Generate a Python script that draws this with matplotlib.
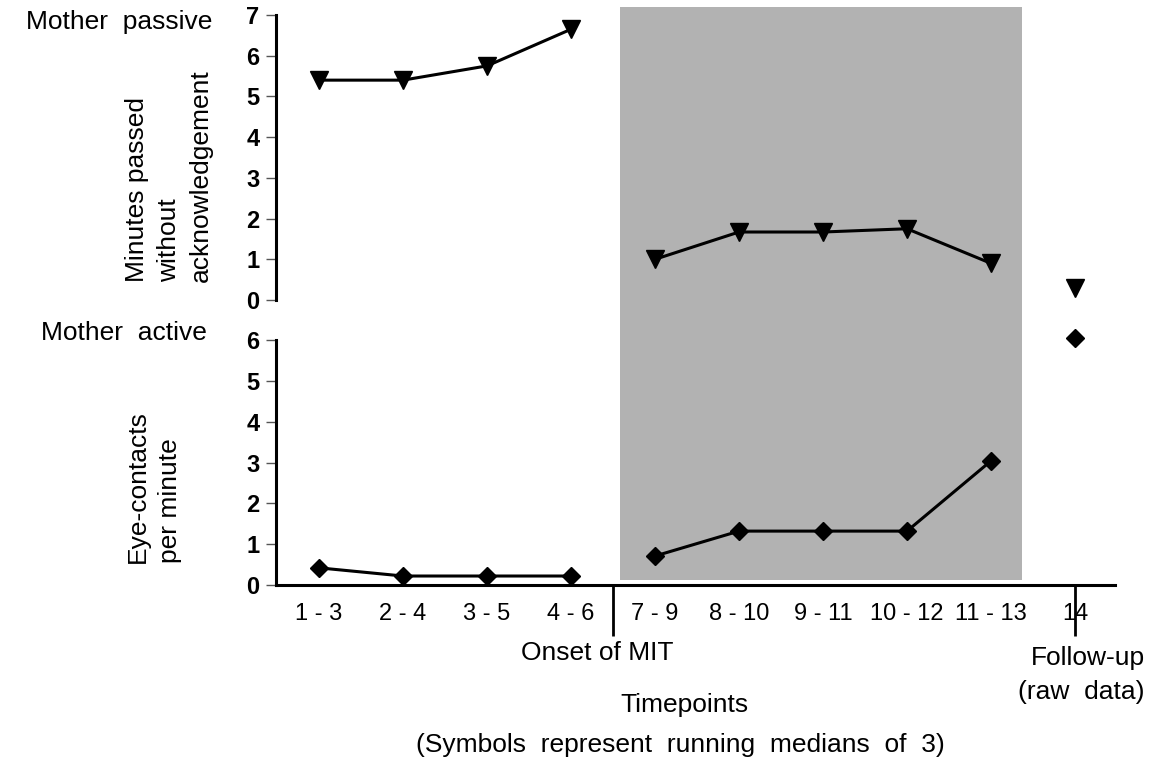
import matplotlib.pyplot as plt
from matplotlib.patches import Rectangle
from matplotlib.transforms import blended_transform_factory

plt.rcParams['font.family'] = ['Liberation Sans', 'DejaVu Sans']

# data
timepoints = ["1 - 3", "2 - 4", "3 - 5", "4 - 6", "7 - 9", "8 - 10", "9 - 11",
              "10 - 12", "11 - 13", "14"]
passive_baseline = [5.4, 5.4, 5.75, 6.65]
passive_mit = [1.0, 1.67, 1.67, 1.75, 0.9]
passive_followup = 0.3
active_baseline = [0.42, 0.22, 0.22, 0.22]
active_mit = [0.71, 1.32, 1.32, 1.32, 3.04]
active_followup = 6.05

x_base = list(range(0, 4))
x_mit = list(range(4, 9))
x_follow = 9

W, H = 1149, 759
fig = plt.figure(figsize=(W / 100, H / 100), dpi=100)


def rect(l, t, r, b):
    return [l / W, 1 - b / H, (r - l) / W, (b - t) / H]


ax_top = fig.add_axes(rect(276, 15, 1115, 300))
ax_bot = fig.add_axes(rect(276, 340, 1115, 585))

xlim = (-0.512, 9.476)
for ax in (ax_top, ax_bot):
    ax.set_xlim(*xlim)
    ax.patch.set_visible(False)
    for s in ("top", "right"):
        ax.spines[s].set_visible(False)
    ax.spines["left"].set_linewidth(2.2)
    ax.tick_params(axis="y", direction="out", length=7, width=1, color="#555555",
                   pad=5, labelsize=17)

# shaded MIT period, spans both panels
shade = Rectangle((3.58, 1 - 580 / H), 8.37 - 3.58, (580 - 7) / H,
                  transform=blended_transform_factory(ax_bot.transData, fig.transFigure),
                  facecolor="#b2b2b2", edgecolor="none", zorder=-5)
fig.patches.append(shade)

# top panel: mother passive
line_kw = dict(color="black", lw=2.2)
ax_top.plot(x_base, passive_baseline, marker="v", ms=13, **line_kw)
ax_top.plot(x_mit, passive_mit, marker="v", ms=13, **line_kw)
ax_top.plot([x_follow], [passive_followup], marker="v", ms=13, color="black",
            ls="none", clip_on=False)
ax_top.set_ylim(0, 7)
ax_top.set_yticks(range(0, 8))
ax_top.set_yticklabels([str(v) for v in range(0, 8)], fontweight="bold")
ax_top.spines["bottom"].set_visible(False)
ax_top.set_xticks([])

# bottom panel: mother active
ax_bot.plot(x_base, active_baseline, marker="D", ms=9, **line_kw)
ax_bot.plot(x_mit, active_mit, marker="D", ms=9, **line_kw)
ax_bot.plot([x_follow], [active_followup], marker="D", ms=9, color="black",
            ls="none", clip_on=False)
ax_bot.set_ylim(0, 6)
ax_bot.set_yticks(range(0, 7))
ax_bot.set_yticklabels([str(v) for v in range(0, 7)], fontweight="bold")
ax_bot.spines["bottom"].set_linewidth(2.2)
ax_bot.xaxis.remove_overlapping_locs = False
ax_bot.set_xticks(range(len(timepoints)))
ax_bot.set_xticklabels(timepoints)
ax_bot.tick_params(axis="x", which="major", length=0, pad=13, labelsize=17)
ax_bot.set_xticks([3.5, 9], minor=True)
ax_bot.tick_params(axis="x", which="minor", length=37, width=2, direction="out",
                   color="black")

# labels
fs = 19
fig.text(212 / W, 1 - 22 / H, "Mother  passive", ha="right", va="center", fontsize=fs)
fig.text(207 / W, 1 - 333 / H, "Mother  active", ha="right", va="center", fontsize=fs)
fig.text(169 / W, 1 - 282 / H, "Minutes passed\nwithout\nacknowledgement",
         rotation=90, ha="center", va="bottom", multialignment="left",
         fontsize=fs, linespacing=1.4)
fig.text(154 / W, 1 - 563 / H, "Eye-contacts\nper minute",
         rotation=90, ha="center", va="bottom", multialignment="left",
         fontsize=fs, linespacing=1.45)
fig.text(597 / W, 1 - 653 / H, "Onset of MIT", ha="center", va="center", fontsize=fs)
fig.text(1145 / W, 1 - 675 / H, "Follow-up\n(raw  data)", ha="right", va="center",
         multialignment="right", fontsize=fs, linespacing=1.55)
fig.text(684 / W, 1 - 705 / H, "Timepoints", ha="center", va="center", fontsize=fs)
fig.text(680 / W, 1 - 745 / H, "(Symbols  represent  running  medians  of  3)",
         ha="center", va="center", fontsize=fs)

fig.savefig("out.png", dpi=100)
